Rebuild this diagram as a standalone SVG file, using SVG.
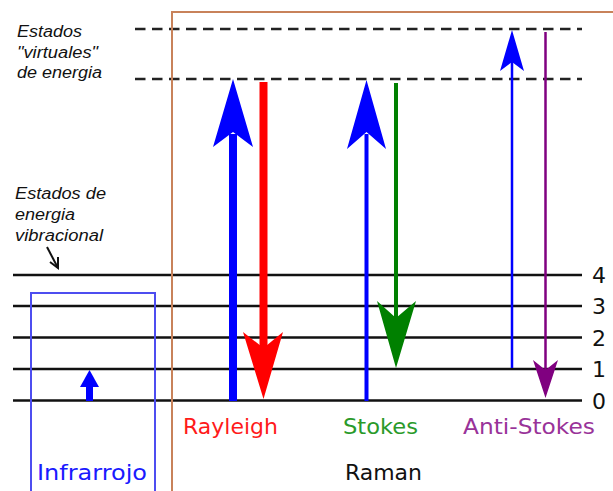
<svg xmlns="http://www.w3.org/2000/svg" width="613" height="491" viewBox="0 0 613 491">
<style>
.lvl{stroke:#111;stroke-width:2.5;fill:none}
.dash{stroke:#222;stroke-width:2.5;stroke-dasharray:10.5 6.5;fill:none}
.lab{font-family:"DejaVu Sans",Verdana,sans-serif;font-size:22px}
.note{font-family:"Liberation Sans",Arial,sans-serif;font-style:italic;font-size:16px;fill:#111}
.num{font-family:"DejaVu Sans",Verdana,sans-serif;font-size:22px;fill:#111}
</style>
<rect width="613" height="491" fill="#fff"/>
<g id="levels">
<line class="lvl" x1="13" y1="275" x2="582" y2="275"/>
<line class="lvl" x1="13" y1="306" x2="582" y2="306"/>
<line class="lvl" x1="13" y1="337.5" x2="582" y2="337.5"/>
<line class="lvl" x1="13" y1="369" x2="582" y2="369"/>
<line class="lvl" x1="13" y1="400.5" x2="582" y2="400.5"/>
<text class="num" x="592" y="283">4</text>
<text class="num" x="592" y="314">3</text>
<text class="num" x="592" y="345.5">2</text>
<text class="num" x="592" y="377">1</text>
<text class="num" x="592" y="408.5">0</text>
</g>
<g id="virtual">
<line class="dash" x1="135" y1="29" x2="582" y2="29"/>
<line class="dash" x1="135" y1="79" x2="582" y2="79"/>
</g>
<g id="raman-box">
<rect x="172" y="12" width="600" height="600" fill="none" stroke="#c8825a" stroke-width="2"/>
<text class="lab" x="345" y="480" fill="#111" textLength="77" lengthAdjust="spacingAndGlyphs">Raman</text>
</g>
<g id="ir-box">
<rect x="31" y="293" width="124" height="300" fill="none" stroke="#4d4df0" stroke-width="2"/>
<text class="lab" x="37" y="480" fill="#1a1aff" textLength="110" lengthAdjust="spacingAndGlyphs">Infrarrojo</text>
</g>
<g id="labels-left">
<text class="note" x="17" y="37" textLength="65" lengthAdjust="spacingAndGlyphs">Estados</text>
<text class="note" x="17" y="58" textLength="81" lengthAdjust="spacingAndGlyphs">"virtuales"</text>
<text class="note" x="17" y="78" textLength="85" lengthAdjust="spacingAndGlyphs">de energia</text>
<text class="note" x="15" y="199" textLength="91" lengthAdjust="spacingAndGlyphs">Estados de</text>
<text class="note" x="15" y="220" textLength="60" lengthAdjust="spacingAndGlyphs">energia</text>
<text class="note" x="15" y="241" textLength="88" lengthAdjust="spacingAndGlyphs">vibracional</text>
</g>
<g id="connectors">
<g id="pointer">
<path d="M47,247 L58,268" stroke="#111" stroke-width="2" fill="none"/>
<path d="M50,262 L58,268 L58,257" stroke="#111" stroke-width="2" fill="none"/>
</g>
<g id="ir-arrow" fill="#0000ff">
<rect x="86" y="385" width="7" height="16"/>
<polygon points="89.5,370 99,387 80,387"/>
</g>
<g id="rayleigh">
<rect x="229" y="134" width="8" height="267" fill="#0000ff"/>
<polygon points="233,79 253,147 233,132 213,147" fill="#0000ff"/>
<rect x="259.5" y="82" width="8" height="268" fill="#ff0000"/>
<polygon points="263.5,399 243,332 263.5,348 283,332" fill="#ff0000"/>
</g>
<g id="stokes">
<rect x="364.5" y="134" width="4" height="267" fill="#0000ff"/>
<polygon points="366.5,80 386,149 366.5,132 347,149" fill="#0000ff"/>
<rect x="394" y="83" width="4" height="237" fill="#008000"/>
<polygon points="396,368 377,301 396,318 416,301" fill="#008000"/>
</g>
<g id="antistokes">
<rect x="510.75" y="60" width="2.5" height="308" fill="#0000ff"/>
<polygon points="512,30 524,71 512,62 500,71" fill="#0000ff"/>
<rect x="544.25" y="32" width="2.5" height="340" fill="#800080"/>
<polygon points="545.5,398 533,360 545.5,370 558,360" fill="#800080"/>
</g>
</g>
<g id="labels-process">
<text class="lab" x="183" y="434" fill="#ff1a1a" textLength="95" lengthAdjust="spacingAndGlyphs">Rayleigh</text>
<text class="lab" x="343" y="434" fill="#2a9a2a" textLength="75" lengthAdjust="spacingAndGlyphs">Stokes</text>
<text class="lab" x="463" y="434" fill="#993399" textLength="132" lengthAdjust="spacingAndGlyphs">Anti-Stokes</text>
</g>
</svg>
